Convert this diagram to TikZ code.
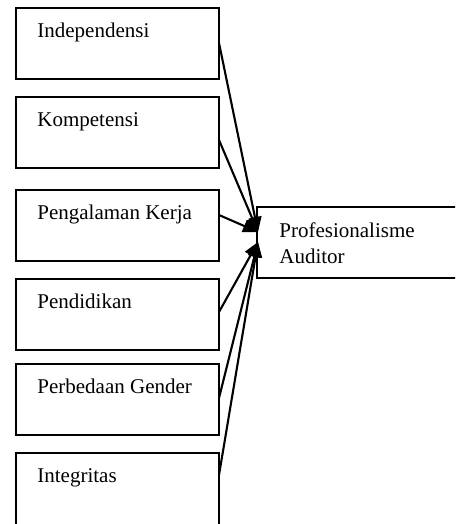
\documentclass[tikz,border=0pt]{standalone}
\usepackage{fontspec}
\setmainfont{Liberation Serif}
\usetikzlibrary{arrows.meta,calc}
\begin{document}
\begin{tikzpicture}[x=0.5pt,y=-0.5pt,
  box/.style={draw,line width=0.7pt,minimum width=101.5pt,minimum height=35.5pt,anchor=north west,inner sep=0pt,outer sep=0pt},
  lbl/.style={anchor=base west,inner sep=0pt,font=\fontsize{10.5pt}{13pt}\selectfont,align=left},
  conn/.style={line width=1.05pt,-{Triangle[length=7.5pt,width=6.5pt]}}]
\useasboundingbox (0,0) rectangle (455,524);
\begin{scope}
\clip (0,0) rectangle (455,524);
\node[box] (b1) at (16,8) {};
\node[box] (b2) at (16,97) {};
\node[box] (b3) at (16,190) {};
\node[box] (b4) at (16,279) {};
\node[box] (b5) at (16,364) {};
\node[box,minimum height=38pt] (b6) at (16,453) {};
\node[box,minimum width=105pt] (t) at (257,207) {};
\end{scope}
\node[lbl] (l1) at ($(b1.north west)+(21,29.5)$) {Independensi};
\node[lbl] (l2) at ($(b2.north west)+(21,29.5)$) {Kompetensi};
\node[lbl] (l3) at ($(b3.north west)+(21,29.5)$) {Pengalaman Kerja};
\node[lbl] (l4) at ($(b4.north west)+(21,29.5)$) {Pendidikan};
\node[lbl] (l5) at ($(b5.north west)+(21,29.5)$) {Perbedaan Gender};
\node[lbl] (l6) at ($(b6.north west)+(21,29.5)$) {Integritas};
\node[lbl] (lt) at ($(t.north west)+(22,56)$) {Profesionalisme\\Auditor};
\coordinate (e1) at ($(t.north west)+(1,25)$);
\coordinate (e2) at ($(t.north west)+(1,35)$);
\draw[conn] ($(b1.north east)+(0,35)$) -- (e1);
\draw[conn] ($(b2.north east)+(0,43)$) -- (e1);
\draw[conn] ($(b3.north east)+(0,25)$) -- (e1);
\draw[conn] ($(b4.north east)+(0,33)$) -- (e2);
\draw[conn] ($(b5.north east)+(0,34)$) -- (e2);
\draw[conn] ($(b6.north east)+(0,22)$) -- (e2);
\end{tikzpicture}
\end{document}
